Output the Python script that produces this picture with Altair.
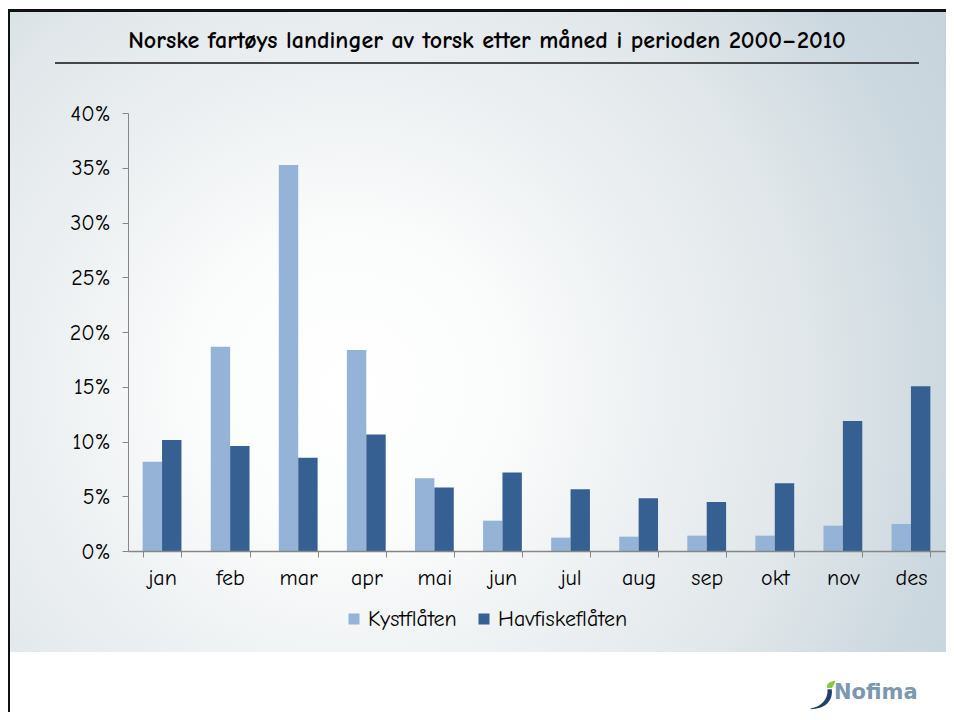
import altair as alt
import pandas as pd

months = ["jan", "feb", "mar", "apr", "mai", "jun", "jul", "aug", "sep", "okt", "nov", "des"]
series = ["Kystflåten", "Havfiskeflåten"]
kyst = [8.15, 18.66, 35.25, 18.36, 6.64, 2.77, 1.22, 1.31, 1.40, 1.40, 2.31, 2.47]
havfisk = [10.14, 9.59, 8.52, 10.65, 5.81, 7.18, 5.63, 4.81, 4.47, 6.18, 11.87, 15.04]
colors = ["#95b3d7", "#376092"]
title_text = "Norske fartøys landinger av torsk etter måned i perioden 2000–2010"
y_ticks = [0, 0.05, 0.10, 0.15, 0.20, 0.25, 0.30, 0.35, 0.40]

rows = []
for i, m in enumerate(months):
    rows.append({"month": m, "series": series[0], "value": kyst[i] / 100})
    rows.append({"month": m, "series": series[1], "value": havfisk[i] / 100})
df = pd.DataFrame(rows)
one = pd.DataFrame({"a": [0]})

FONT = "Comic Sans MS, Comic Neue, DejaVu Sans"

# slide background panel with soft radial gradient
panel = alt.Chart(one).mark_rect(
    fill={
        "gradient": "radial",
        "x1": 0.36, "y1": 0.56, "r1": 0.0,
        "x2": 0.36, "y2": 0.56, "r2": 0.8,
        "stops": [
            {"offset": 0.0, "color": "#ffffff"},
            {"offset": 0.2, "color": "#fbfcfc"},
            {"offset": 0.45, "color": "#eaeef0"},
            {"offset": 0.6, "color": "#e1e7ea"},
            {"offset": 0.8, "color": "#ccd8df"},
            {"offset": 1.0, "color": "#c5d2da"},
        ],
    },
    stroke=None,
).encode(x=alt.value(-120), x2=alt.value(826), y=alt.value(-102), y2=alt.value(539))

top_border = alt.Chart(one).mark_rule(color="#111111", strokeWidth=3).encode(
    x=alt.value(-120), x2=alt.value(826), y=alt.value(-102.5)
)
left_border = alt.Chart(one).mark_rule(color="#111111", strokeWidth=3).encode(
    x=alt.value(-119.5), y=alt.value(-104), y2=alt.value(600)
)
underline = alt.Chart(one).mark_rule(color="#111111", strokeWidth=1.5).encode(
    x=alt.value(-73), x2=alt.value(791), y=alt.value(-50)
)
title = alt.Chart(one).mark_text(
    text=title_text, font=FONT, fontSize=24, fontWeight="bold", color="black",
    align="center", baseline="middle",
).encode(x=alt.value(359), y=alt.value(-72))

bars = alt.Chart(df).mark_bar(stroke=None).encode(
    x=alt.X(
        "month:N", sort=months, title=None,
        scale=alt.Scale(paddingInner=0.43, paddingOuter=0.215),
        axis=alt.Axis(
            labelAngle=0, labelFont=FONT, labelFontSize=22, labelColor="black",
            labelPadding=10, tickBand="extent", tickSize=6, tickColor="#868686",
            domainColor="#868686", domainWidth=1.5, zindex=2,
        ),
    ),
    xOffset=alt.XOffset("series:N", sort=series, scale=alt.Scale(paddingInner=0, paddingOuter=0)),
    y=alt.Y(
        "value:Q", title=None,
        scale=alt.Scale(domain=[0, 0.4], nice=False),
        axis=alt.Axis(
            values=y_ticks, format=".0%", labelFont=FONT, labelFontSize=22,
            labelColor="black", labelPadding=12, tickSize=6, tickColor="#868686",
            domainColor="#868686", grid=False, zindex=2,
        ),
    ),
    color=alt.Color(
        "series:N", sort=series,
        scale=alt.Scale(domain=series, range=colors),
        legend=alt.Legend(
            title=None, orient="none", legendX=215, legendY=495, direction="horizontal",
            symbolType="square", symbolSize=121, symbolStrokeWidth=0,
            labelFont=FONT, labelFontSize=22, labelColor="black", columnPadding=16,
            labelOffset=3, zindex=2,
        ),
    ),
)

logo_text = alt.Chart(one).mark_text(
    text="Nofima", font="DejaVu Sans", fontSize=21, fontWeight="bold", color="#7d97b0",
    align="left", baseline="middle",
).encode(x=alt.value(706), y=alt.value(580))
swoosh = alt.Chart(one).mark_point(
    shape="M -0.95 0.95 C -0.2 0.85 0.3 0.3 0.25 -0.4 L 0.55 -0.4 C 0.65 0.45 0.05 1.0 -0.95 1.0 Z",
    filled=True, fill="#1f3f6e", size=800, opacity=1, stroke=None,
).encode(x=alt.value(696), y=alt.value(582))
leaf = alt.Chart(one).mark_point(
    shape="M 0.25 -0.5 C 0.1 -0.75 0.4 -0.95 0.8 -1.0 C 0.75 -0.75 0.65 -0.6 0.55 -0.5 Z",
    filled=True, fill="#8cc63f", size=800, opacity=1, stroke=None,
).encode(x=alt.value(696), y=alt.value(582))

chart = alt.layer(panel, top_border, left_border, underline, title, bars, swoosh, leaf, logo_text).properties(
    width=817, height=438,
    autosize=alt.AutoSizeParams(type="none"),
    padding={"left": 120, "top": 105, "right": 1, "bottom": 161},
).configure(background="white").configure_view(stroke=None)

chart.save("out.html", embed_options={"renderer": "svg", "actions": False})
